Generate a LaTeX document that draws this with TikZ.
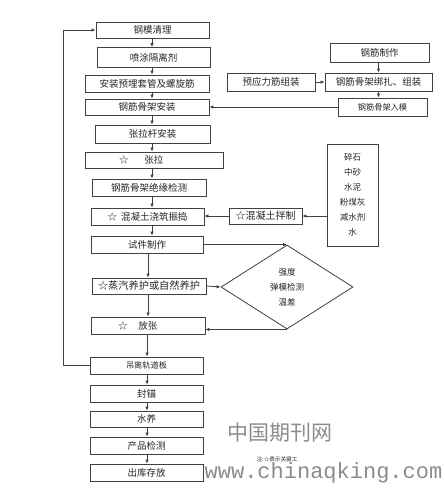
\documentclass[tikz,border=0pt]{standalone}
\usepackage{fontspec}
\setmainfont{Noto Sans CJK SC}
\newfontfamily\wmfont{Liberation Mono}
\usetikzlibrary{arrows.meta,shapes.geometric}
\begin{document}
\begin{tikzpicture}[x=1pt,y=-1pt,
  box/.style={draw=black!75, line width=0.8pt, inner sep=0pt, text=black!85,
    font=\fontsize{9.5}{11}\selectfont},
  small/.style={font=\fontsize{8.2}{10}\selectfont},
  arr/.style={draw=black!75, line width=0.8pt, -{Latex[length=4pt,width=3.5pt]}},
  ln/.style={draw=black!75, line width=0.8pt},
  wm/.style={text=black!45, inner sep=0pt}]
\useasboundingbox[fill=white] (0,0) rectangle (445,496);

% main column
\node[box,minimum width=113pt,minimum height=16pt] (b1) at (152.5,30) {钢模清理};
\node[box,minimum width=113pt,minimum height=20pt] (b2) at (153.5,57.5) {喷涂隔离剂};
\node[box,minimum width=124pt,minimum height=17pt] (b3) at (147,83.5) {安装预埋套管及螺旋筋};
\node[box,minimum width=124pt,minimum height=16pt] (b4) at (147,107) {钢筋骨架安装};
\node[box,minimum width=115pt,minimum height=18pt] (b5) at (152.5,134) {张拉杆安装};
\node[box,minimum width=138pt,minimum height=16pt] (b6) at (154,160) {\llap{☆\hspace{16pt}}张拉};
\node[box,minimum width=114pt,minimum height=17pt] (b7) at (149,187.5) {钢筋骨架绝缘检测};
\node[box,minimum width=113pt,minimum height=17pt] (b8) at (147.5,216.5) {☆\hspace{4pt}混凝土浇筑振捣\hspace{23pt}};
\node[box,minimum width=112pt,minimum height=17pt] (b9) at (147,244.5) {试件制作};
\node[box,minimum width=114pt,minimum height=16pt,font=\fontsize{10.2}{12}\selectfont] (b10) at (149,286) {☆蒸汽养护或自然养护\hspace{6pt}};
\node[box,minimum width=114pt,minimum height=17pt] (b11) at (148,325.5) {\llap{☆\hspace{11pt}}放张};
\node[box,small,minimum width=113pt,minimum height=17pt] (b12) at (146.5,365.5) {吊离轨道板};
\node[box,minimum width=113pt,minimum height=17pt] (b13) at (146.5,393.5) {封锚};
\node[box,minimum width=113pt,minimum height=16pt] (b14) at (146.5,419) {水养};
\node[box,minimum width=113pt,minimum height=17pt] (b15) at (146.5,445.5) {产品检测};
\node[box,minimum width=113pt,minimum height=17pt] (b16) at (146.5,472.5) {出库存放};

% right column
\node[box,minimum width=99pt,minimum height=19pt] (r1) at (379.5,52.5) {钢筋制作};
\node[box,minimum width=88pt,minimum height=18pt] (r2) at (271,82) {预应力筋组装};
\node[box,minimum width=107pt,minimum height=18pt] (r3) at (378.5,82) {钢筋骨架绑扎、组装};
\node[box,small,minimum width=89pt,minimum height=18pt] (r4) at (382.5,107) {钢筋骨架入模};
\node[box,minimum width=51pt,minimum height=102pt,align=center,
  font=\fontsize{8.5}{15}\selectfont] (mat) at (352.5,195) {碎石\\中砂\\水泥\\粉煤灰\\减水剂\\水};
\node[box,minimum width=73pt,minimum height=16pt,font=\fontsize{10}{12}\selectfont] (mix) at (265.5,216) {☆混凝土拌制\hspace{4pt}};

% decision diamond
\node[diamond,draw=black!75,line width=0.8pt,minimum width=132pt,minimum height=84pt,
  inner sep=0pt,align=center,text=black!85,font=\fontsize{8.5}{15}\selectfont] (dia) at (287,287)
  {强度\\弹模检测\\温差};

% x positions of the main flow line
\coordinate (xa) at (152,0);
\coordinate (xb) at (148,0);
\coordinate (xc) at (147,0);

\draw[arr] (b1.south -| xa) -- (b2.north -| xa);
\draw[arr] (b2.south -| xa) -- (b3.north -| xa);
\draw[arr] (b3.south -| xa) -- (b4.north -| xa);
\draw[arr] (b4.south -| xa) -- (b5.north -| xa);
\draw[arr] (b5.south -| xa) -- (b6.north -| xa);
\draw[arr] (b6.south -| xa) -- (b7.north -| xa);
\draw[arr] (b7.south -| xa) -- (b8.north -| xa);
\draw[arr] (b8.south -| xa) -- (b9.north -| xa);
\draw[arr] (b9.south -| xb) -- (b10.north -| xb);
\draw[arr] (b10.south -| xb) -- (b11.north -| xb);
\draw[arr] (b11.south -| xc) -- (b12.north -| xc);
\draw[arr] (b12.south -| xc) -- (b13.north -| xc);
\draw[arr] (b13.south -| xc) -- (b14.north -| xc);
\draw[arr] (b14.south -| xc) -- (b15.north -| xc);
\draw[arr] (b15.south -| xc) -- (b16.north -| xc);

% loop back
\draw[arr] (b12.west) -- ++(-26,0) |- (b1.west);

% right column connections
\draw[arr] (r1.south -| r3) -- (r3.north);
\draw[arr] (r2.east) -- (r3.west);
\draw[arr] (r3.south) -- (r3.south |- r4.north);
\draw[arr] (r4.west) -- (b4.east);
\draw[arr] (mix.east -| mat.west) -- (mix.east);
\draw[arr] (mix.west) -- (mix.west -| b8.east);

% diamond connections
\draw[arr] (b9.east) -- (dia.north);
\draw[arr] (b10.east) -- (dia.west);
\draw[arr] (dia.south) -- (dia.south -| b11.east);

% note and watermark
\node[wm,font=\fontsize{21}{24}\selectfont] (wm1) at (279.5,433) {中国期刊网};
\node[wm,font=\wmfont\fontsize{22}{24}\selectfont] (wm2) at (323.5,473) {www.chinaqking.com};
\node[inner sep=0pt,text=black!85,font=\fontsize{5.6}{7}\selectfont] (note) at (277,459) {注:☆表示关键工};
\end{tikzpicture}
\end{document}
